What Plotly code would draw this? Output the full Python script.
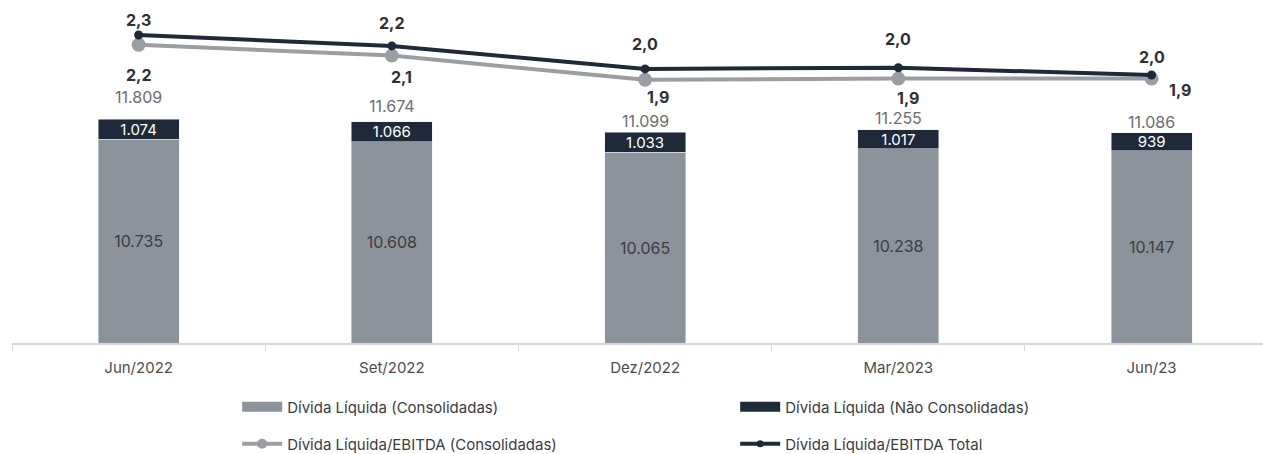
import plotly.graph_objects as go

categories = ["Jun/2022", "Set/2022", "Dez/2022", "Mar/2023", "Jun/23"]
divida_consolidadas = [10735, 10608, 10065, 10238, 10147]
divida_nao_consolidadas = [1074, 1066, 1033, 1017, 939]
totais = [11809, 11674, 11099, 11255, 11086]
ebitda_consolidadas = [2.22, 2.13, 1.93, 1.94, 1.94]
ebitda_total = [2.30, 2.21, 2.02, 2.03, 1.97]

GRAY_BAR = "#8D939A"
NAVY = "#1E2A39"
GRAY_LINE = "#9A9EA3"
FONT = "Inter"

def fmt_int(v):
    return f"{v:,}".replace(",", ".")

def fmt_dec(v):
    return f"{v:.1f}".replace(".", ",")

fig = go.Figure()

fig.add_trace(go.Bar(
    x=categories, y=divida_consolidadas, marker_color=GRAY_BAR, width=0.32,
    text=[fmt_int(v) for v in divida_consolidadas], textposition="inside",
    insidetextanchor="middle", constraintext="none",
    textfont=dict(color="#3A3D42", size=16, family=FONT),
    showlegend=False, hoverinfo="skip"))
fig.add_trace(go.Bar(
    x=categories, y=divida_nao_consolidadas, marker_color=NAVY, width=0.32,
    text=[fmt_int(v) for v in divida_nao_consolidadas], textposition="inside",
    insidetextanchor="middle", constraintext="none",
    textfont=dict(color="white", size=15, family=FONT),
    showlegend=False, hoverinfo="skip"))

fig.add_trace(go.Scatter(
    x=categories, y=ebitda_consolidadas, yaxis="y2", mode="lines+markers",
    line=dict(color=GRAY_LINE, width=4), marker=dict(size=14, color=GRAY_LINE),
    showlegend=False, hoverinfo="skip"))
fig.add_trace(go.Scatter(
    x=categories, y=ebitda_total, yaxis="y2", mode="lines+markers",
    line=dict(color=NAVY, width=4), marker=dict(size=9, color=NAVY),
    showlegend=False, hoverinfo="skip"))

# legend-only entries
fig.add_trace(go.Scatter(x=[None], y=[None], mode="lines", name="Dívida Líquida (Consolidadas)",
                         line=dict(color=GRAY_BAR, width=10), legend="legend"))
fig.add_trace(go.Scatter(x=[None], y=[None], mode="lines", name="Dívida Líquida (Não Consolidadas)",
                         line=dict(color=NAVY, width=10), legend="legend"))
fig.add_trace(go.Scatter(x=[None], y=[None], mode="lines+markers", name="Dívida Líquida/EBITDA (Consolidadas)",
                         line=dict(color=GRAY_LINE, width=4), marker=dict(size=10, color=GRAY_LINE), legend="legend2"))
fig.add_trace(go.Scatter(x=[None], y=[None], mode="lines+markers", name="Dívida Líquida/EBITDA Total",
                         line=dict(color=NAVY, width=4), marker=dict(size=7, color=NAVY), legend="legend2"))

annotations = []
total_shift = [22, 16, 11, 12, 11]
for c, t, s in zip(categories, totais, total_shift):
    annotations.append(dict(x=c, y=t, xref="x", yref="y", text=fmt_int(t), showarrow=False,
                            yanchor="middle", yshift=s, font=dict(size=16, color="#6A6E73", family=FONT)))
tot_shift = [(0, 15), (0, 23), (0, 25), (0, 29), (0, 18)]
for c, v, (dx, dy) in zip(categories, ebitda_total, tot_shift):
    annotations.append(dict(x=c, y=v, xref="x", yref="y2", text=f"<b>{fmt_dec(v)}</b>", showarrow=False,
                            yanchor="middle", xshift=dx, yshift=dy,
                            font=dict(size=16, color="#2E3035", family=FONT)))
cons_shift = [(0, -30), (10, -21), (13, -17), (10, -19), (28, -11)]
for c, v, (dx, dy) in zip(categories, ebitda_consolidadas, cons_shift):
    annotations.append(dict(x=c, y=v, xref="x", yref="y2", text=f"<b>{fmt_dec(v)}</b>", showarrow=False,
                            yanchor="middle", xshift=dx, yshift=dy,
                            font=dict(size=16, color="#2E3035", family=FONT)))

legend_common = dict(orientation="h", xanchor="left", yanchor="middle", yref="container",
                     entrywidth=443, entrywidthmode="pixels", itemwidth=40, traceorder="normal",
                     font=dict(size=15, color="#3A3D42", family=FONT), bgcolor="rgba(0,0,0,0)")

fig.update_layout(
    width=1263, height=454,
    margin=dict(l=12, r=0, t=10, b=111),
    plot_bgcolor="white", paper_bgcolor="white",
    barmode="stack",
    font=dict(family=FONT, size=15, color="#4A4D52"),
    xaxis=dict(showline=True, linecolor="#D5D7DA", linewidth=2, ticks="outside",
               tickson="boundaries", ticklen=6, tickcolor="#D5D7DA", ticklabelstandoff=10,
               range=[-0.5, 4.44],
               tickfont=dict(size=15, color="#4A4D52", family=FONT), showgrid=False),
    yaxis=dict(range=[0, 17555], visible=False, showgrid=False),
    yaxis2=dict(range=[-0.245, 2.507], overlaying="y", visible=False, showgrid=False),
    legend=dict(x=0.18, y=1 - 407 / 454, **legend_common),
    legend2=dict(x=0.18, y=1 - 444 / 454, **legend_common),
    annotations=annotations,
)

fig.write_html("out.html")
